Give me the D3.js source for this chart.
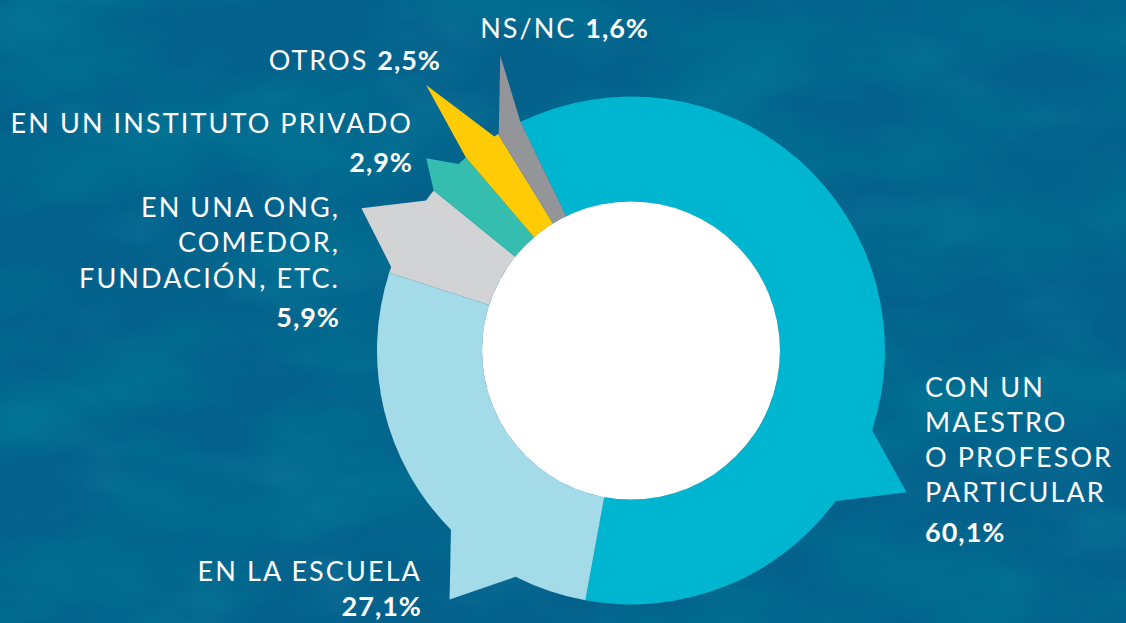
<!DOCTYPE html>
<html>
<head>
<meta charset="utf-8">
<script src="https://cdn.jsdelivr.net/npm/d3@7"></script>
<style>
  html, body { margin: 0; padding: 0; background: #03608a; }
  svg { display: block; }
  text { font-family: "Lato", "Open Sans", sans-serif; fill: #ffffff; }
</style>
</head>
<body>
<svg id="chart" width="1126" height="623"></svg>
<script>
// ---- data ----
const categories = [
  "CON UN MAESTRO O PROFESOR PARTICULAR",
  "EN LA ESCUELA",
  "EN UNA ONG, COMEDOR, FUNDACIÓN, ETC.",
  "EN UN INSTITUTO PRIVADO",
  "OTROS",
  "NS/NC"
];
const values = [60.1, 27.1, 5.9, 2.9, 2.5, 1.6];
const labelLines = [
  ["CON UN", "MAESTRO", "O PROFESOR", "PARTICULAR"],
  ["EN LA ESCUELA"],
  ["EN UNA ONG,", "COMEDOR,", "FUNDACIÓN, ETC."],
  ["EN UN INSTITUTO PRIVADO"],
  ["OTROS"],
  ["NS/NC"]
];

// ---- styles / geometry ----
const colors = ["#00b5cf", "#a3dbe8", "#d1d3d4", "#35bdaf", "#ffcb05", "#939598"];
// speech-bubble tails: base start/end and tip as fraction of slice angle, tip radius factor
const tails = [
  { b0: 0.6205, b1: 0.7042, ta: 0.6617, tr: 1.22 },
  { b0: 0.171,  b1: 0.357,  ta: 0.264,  tr: 1.213 },
  { b0: 0.066,  b1: 0.868,  ta: 0.472,  tr: 1.20 },
  { b0: 0.0,    b1: 0.79,   ta: 0.40,   tr: 1.106 },
  { b0: 0.0,    b1: 0.89,   ta: 0.32,   tr: 1.32 },
  { b0: 0.03,   b1: 1.0,    ta: 1.33,   tr: 1.27 }
];
// label placement: anchor, x, first baseline, line step, gap before percent, inline percent
const labelPos = [
  { anchor: "start", x: 925, y: 397, step: 35, pgap: 40, inline: false },
  { anchor: "end",   x: 422, y: 581, step: 35, pgap: 35, inline: false },
  { anchor: "end",   x: 340, y: 217, step: 35.3, pgap: 39, inline: false },
  { anchor: "end",   x: 413, y: 133, step: 35, pgap: 39, inline: false },
  { anchor: "end",   x: 441, y: 70,  step: 35, pgap: 39, inline: true },
  { anchor: "end",   x: 649, y: 38,  step: 35, pgap: 39, inline: true }
];

const W = 1126, H = 623;
const cx = 631, cy = 350.5, R = 254, Ri = 149;
const startDeg = -25.8;

const svg = d3.select("#chart");
const defs = svg.append("defs");
// darker mottled streaks
const f = defs.append("filter").attr("id", "tex").attr("x", 0).attr("y", 0).attr("width", 1).attr("height", 1);
f.append("feTurbulence").attr("type", "fractalNoise").attr("baseFrequency", "0.005 0.011").attr("numOctaves", 4).attr("seed", 11);
f.append("feColorMatrix").attr("type", "matrix")
  .attr("values", "0 0 0 0 0  0 0 0 0 0.2  0 0 0 0 0.31  1.5 0 0 0 -0.6");
// faint lighter patches
const f2 = defs.append("filter").attr("id", "tex2").attr("x", 0).attr("y", 0).attr("width", 1).attr("height", 1);
f2.append("feTurbulence").attr("type", "fractalNoise").attr("baseFrequency", "0.008 0.016").attr("numOctaves", 3).attr("seed", 4);
f2.append("feColorMatrix").attr("type", "matrix")
  .attr("values", "0 0 0 0 0.05  0 0 0 0 0.45  0 0 0 0 0.62  1.0 0 0 0 -0.52");

svg.append("rect").attr("width", W).attr("height", H).attr("fill", "#03618b");
svg.append("rect").attr("width", W).attr("height", H).attr("filter", "url(#tex2)").attr("opacity", 0.35);
svg.append("rect").attr("width", W).attr("height", H).attr("filter", "url(#tex)");

const pie = d3.pie().sort(null).value(d => d)
  .startAngle(startDeg * Math.PI / 180)
  .endAngle(startDeg * Math.PI / 180 + 2 * Math.PI);
const arcs = pie(values);

const g = svg.append("g").attr("transform", `translate(${cx},${cy})`);
const pt = (a, r) => [Math.sin(a) * r, -Math.cos(a) * r];
const H2 = Math.PI / 2;

function bubblePath(d, i) {
  const a0 = d.startAngle, a1 = d.endAngle, span = a1 - a0;
  const t = tails[i];
  const b0 = a0 + t.b0 * span, b1 = a0 + t.b1 * span, ta = a0 + t.ta * span;
  const p = d3.path();
  p.moveTo(...pt(a0, Ri));
  p.lineTo(...pt(a0, R));
  if (b0 > a0) p.arc(0, 0, R, a0 - H2, b0 - H2, false);
  else p.lineTo(...pt(b0, R));
  p.lineTo(...pt(ta, R * t.tr));
  p.lineTo(...pt(b1, R));
  if (a1 > b1) p.arc(0, 0, R, b1 - H2, a1 - H2, false);
  p.lineTo(...pt(a1, Ri));
  p.arc(0, 0, Ri, a1 - H2, a0 - H2, true);
  p.closePath();
  return p.toString();
}

g.selectAll("path.slice").data(arcs).join("path")
  .attr("class", "slice")
  .attr("d", bubblePath)
  .attr("fill", (d, i) => colors[i]);

g.append("circle").attr("r", Ri).attr("fill", "#ffffff");

// ---- labels ----
const fmt = v => d3.format(".1f")(v).replace(".", ",") + "%";
const lab = svg.append("g");
labelLines.forEach((lines, i) => {
  const lp = labelPos[i];
  const t = lab.append("text").attr("text-anchor", lp.anchor)
    .style("font-size", "27px");
  if (lp.inline) {
    t.attr("x", lp.x).attr("y", lp.y);
    t.append("tspan").style("font-weight", 400).style("letter-spacing", "2px").text(lines[0] + " ");
    t.append("tspan").style("font-weight", 700).style("letter-spacing", "1px").text(fmt(values[i]));
  } else {
    lines.forEach((ln, k) => {
      t.append("tspan").attr("x", lp.x).attr("y", lp.y + k * lp.step)
        .style("font-weight", 400).style("letter-spacing", "2.1px").text(ln);
    });
    t.append("tspan").attr("x", lp.x)
      .attr("y", lp.y + (lines.length - 1) * lp.step + lp.pgap)
      .style("font-weight", 700).style("letter-spacing", "1px").text(fmt(values[i]));
  }
});
</script>
</body>
</html>
